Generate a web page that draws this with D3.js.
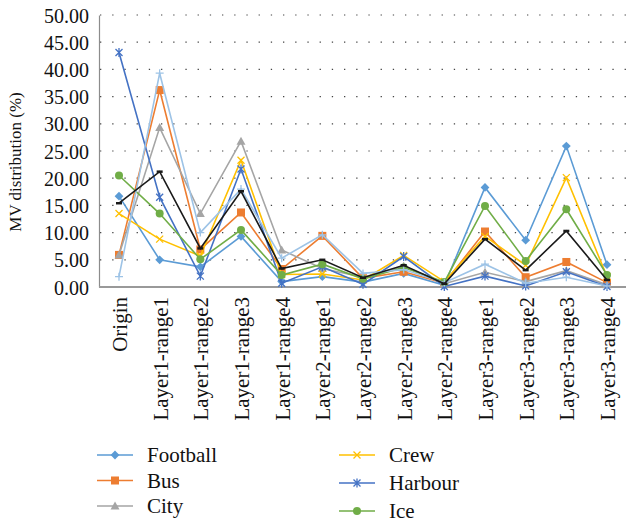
<!DOCTYPE html>
<html>
<head>
<meta charset="utf-8">
<script src="https://cdn.jsdelivr.net/npm/d3@7"></script>
<style>
  body { margin: 0; background: #fff; }
  svg text { font-family: "Liberation Serif", "DejaVu Serif", serif; fill: #111; }
</style>
</head>
<body>
<svg id="chart" width="626" height="522"></svg>
<script>
// categories and series
var categories = ["Origin", "Layer1-range1", "Layer1-range2", "Layer1-range3", "Layer1-range4",
  "Layer2-range1", "Layer2-range2", "Layer2-range3", "Layer2-range4",
  "Layer3-range1", "Layer3-range2", "Layer3-range3", "Layer3-range4"];
var yTicks = [0, 5, 10, 15, 20, 25, 30, 35, 40, 45, 50];

var football = [16.7, 5.0, 3.7, 9.3, 1.0, 1.9, 0.9, 2.5, 0.3, 18.3, 8.6, 25.9, 4.1];
var bus      = [5.9, 36.2, 6.9, 13.7, 3.3, 9.4, 1.6, 2.8, 0.7, 10.2, 1.8, 4.6, 0.8];
var city     = [5.9, 29.3, 13.5, 26.8, 6.8, 3.4, 1.8, 3.8, 0.6, 2.7, 1.0, 3.0, 0.4];
var crew     = [13.5, 8.8, 5.7, 23.3, 2.3, 2.4, 1.3, 5.8, 1.0, 9.3, 4.0, 20.1, 1.9];
var harbour  = [43.1, 16.5, 2.0, 21.7, 0.7, 3.7, 0.5, 5.6, 0.1, 2.0, 0.2, 2.8, 0.1];
var ice      = [20.5, 13.5, 5.1, 10.5, 2.2, 4.2, 1.5, 3.6, 0.9, 14.9, 4.8, 14.3, 2.2];
var mobile   = [1.9, 39.3, 10.0, 18.0, 5.3, 9.6, 2.5, 3.2, 0.8, 4.2, 0.7, 1.8, 0.2];
var average  = [15.4, 21.2, 7.1, 17.6, 3.4, 5.0, 1.7, 4.0, 0.6, 8.8, 3.1, 10.3, 1.3];

var series = [
  { name: "Football", values: football, color: "#5b9bd5", marker: "diamond" },
  { name: "Bus",      values: bus,      color: "#ed7d31", marker: "square" },
  { name: "City",     values: city,     color: "#a5a5a5", marker: "triangle" },
  { name: "Crew",     values: crew,     color: "#ffc000", marker: "x" },
  { name: "Harbour",  values: harbour,  color: "#4472c4", marker: "star" },
  { name: "Ice",      values: ice,      color: "#70ad47", marker: "circle" },
  { name: "Mobile",   values: mobile,   color: "#9dc3e6", marker: "plus" },
  { name: "Average",  values: average,  color: "#1a1a1a", marker: "dash" }
];

var svg = d3.select("#chart");
var plotLeft = 99, plotRight = 626, plotTop = 15, plotBottom = 287;

var x = d3.scalePoint().domain(categories).range([119, 607]);
var y = d3.scaleLinear().domain([0, 50]).range([plotBottom, plotTop]);

// dotted gridlines
svg.append("g").selectAll("line")
  .data(yTicks.filter(function(d){ return d > 0; }))
  .enter().append("line")
    .attr("x1", plotLeft + 1).attr("x2", plotRight)
    .attr("y1", function(d){ return y(d); })
    .attr("y2", function(d){ return y(d); })
    .attr("stroke", "#444")
    .attr("stroke-width", 1.2)
    .attr("stroke-dasharray", "1.3,10.9");

// y axis
var yAxis = d3.axisLeft(y).tickValues(yTicks).tickSize(0).tickPadding(10)
  .tickFormat(d3.format(".2f"));
var gy = svg.append("g").attr("transform", "translate(" + plotLeft + ",0)").call(yAxis);
gy.select(".domain").attr("stroke", "#8c8c8c").attr("stroke-width", 1.2);
gy.selectAll("text").style("font-size", "20px").attr("dy", "0.35em");

// x axis
var xAxis = d3.axisBottom(x).tickSize(0).tickPadding(0);
var gx = svg.append("g").attr("transform", "translate(0," + plotBottom + ")").call(xAxis);
gx.select(".domain").attr("d", "M" + plotLeft + ",0H" + plotRight).attr("stroke", "#999").attr("stroke-width", 2);
gx.selectAll("text")
  .style("font-size", "21px")
  .attr("text-anchor", "end")
  .attr("transform", "rotate(-90)")
  .attr("x", -10).attr("y", 0).attr("dy", "0.35em");

// y title
svg.append("text")
  .attr("transform", "translate(21,162) rotate(-90)")
  .attr("text-anchor", "middle")
  .style("font-size", "17px")
  .text("MV distribution (%)");

function drawMarker(g, type, color) {
  if (type === "diamond") {
    g.append("path").attr("d", "M0,-4.4L4.4,0L0,4.4L-4.4,0Z").attr("fill", color);
  } else if (type === "square") {
    g.append("rect").attr("x", -4).attr("y", -4).attr("width", 8).attr("height", 8).attr("fill", color);
  } else if (type === "triangle") {
    g.append("path").attr("d", "M0,-4.5L4.5,3.5L-4.5,3.5Z").attr("fill", color);
  } else if (type === "circle") {
    g.append("circle").attr("r", 4).attr("fill", color);
  } else if (type === "x") {
    g.append("path").attr("d", "M-3.5,-3.5L3.5,3.5M-3.5,3.5L3.5,-3.5").attr("stroke", color).attr("stroke-width", 1.3);
  } else if (type === "star") {
    g.append("path").attr("d", "M-3.5,-3.5L3.5,3.5M-3.5,3.5L3.5,-3.5M0,-4.5L0,4.5").attr("stroke", color).attr("stroke-width", 1.3);
  } else if (type === "plus") {
    g.append("path").attr("d", "M-4,0L4,0M0,-4L0,4").attr("stroke", color).attr("stroke-width", 1.3);
  } else if (type === "dash") {
    g.append("path").attr("d", "M-3,0L3,0").attr("stroke", color).attr("stroke-width", 2.5);
  }
}

var line = d3.line()
  .x(function(d, i){ return x(categories[i]); })
  .y(function(d){ return y(d); });

series.forEach(function(s) {
  svg.append("path")
    .datum(s.values)
    .attr("d", line)
    .attr("fill", "none")
    .attr("stroke", s.color)
    .attr("stroke-width", 1.6);
  s.values.forEach(function(v, i) {
    var g = svg.append("g").attr("transform", "translate(" + x(categories[i]) + "," + y(v) + ")");
    drawMarker(g, s.marker, s.color);
  });
});

// legend, two columns; only the first six entries fit in the picture
var legendCols = [
  { x: 97, y0: 455, step: 25.5 },
  { x: 339, y0: 455, step: 28 }
];
series.slice(0, 6).forEach(function(s, i) {
  var col = legendCols[Math.floor(i / 3)];
  var ly = col.y0 + (i % 3) * col.step;
  var g = svg.append("g").attr("transform", "translate(" + col.x + "," + ly + ")");
  g.append("line").attr("x1", 0).attr("x2", 36).attr("stroke", s.color).attr("stroke-width", 1.6);
  var m = g.append("g").attr("transform", "translate(18,0)");
  drawMarker(m, s.marker, s.color);
  g.append("text").attr("x", 50).attr("dy", "0.35em").style("font-size", "21px").text(s.name);
});
</script>
</body>
</html>
